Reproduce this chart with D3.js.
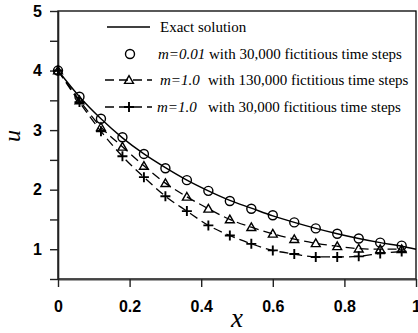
<!DOCTYPE html>
<html>
<head>
<meta charset="utf-8">
<script src="https://cdn.jsdelivr.net/npm/d3@7"></script>
<style>
  body { margin: 0; background: #fff; }
  svg { display: block; }
</style>
</head>
<body>
<div id="chart"></div>
<script>
// values
const xPts = [0, 0.06, 0.12, 0.18, 0.24, 0.30, 0.36, 0.42, 0.48, 0.54, 0.60, 0.66, 0.72, 0.78, 0.84, 0.90, 0.96];
const exactX = [0, 0.06, 0.12, 0.18, 0.24, 0.30, 0.36, 0.42, 0.48, 0.54, 0.60, 0.66, 0.72, 0.78, 0.84, 0.90, 0.96, 1.0];
const exactU = [4.00, 3.56, 3.19, 2.87, 2.60, 2.37, 2.16, 1.98, 1.82, 1.69, 1.56, 1.45, 1.35, 1.26, 1.18, 1.11, 1.05, 1.00];
const circleU = [4.00, 3.56, 3.19, 2.88, 2.60, 2.36, 2.16, 1.98, 1.81, 1.68, 1.57, 1.45, 1.35, 1.26, 1.18, 1.11, 1.06];
const triangleU = [4.00, 3.50, 3.05, 2.72, 2.40, 2.11, 1.88, 1.68, 1.50, 1.37, 1.26, 1.17, 1.10, 1.05, 1.01, 1.00, 1.00];
const plusU = [4.00, 3.47, 2.98, 2.56, 2.21, 1.89, 1.64, 1.40, 1.23, 1.09, 0.98, 0.92, 0.87, 0.87, 0.88, 0.93, 0.96];

const xTicks = [0, 0.2, 0.4, 0.6, 0.8, 1];
const yTicks = [0.5, 1, 1.5, 2, 2.5, 3, 3.5, 4, 4.5, 5];

const W = 418, H = 333;
const margin = { top: 11, right: 2, bottom: 54, left: 58 };
const width = W - margin.left - margin.right;
const height = H - margin.top - margin.bottom;

const serif = '"Liberation Serif", "Times New Roman", serif';
const sans = '"Liberation Sans", Arial, sans-serif';

const scaleX = d3.scaleLinear().domain([0, 1]).range([0, width]);
const scaleY = d3.scaleLinear().domain([0.5, 5]).range([height, 0]);

const svg = d3.select('#chart').append('svg')
    .attr('width', W)
    .attr('height', H);
const g = svg.append('g')
    .attr('transform', 'translate(' + margin.left + ',' + margin.top + ')');

// frame
g.append('rect')
    .attr('width', width)
    .attr('height', height)
    .attr('fill', 'none')
    .attr('stroke', '#000')
    .attr('stroke-width', 1.3);

// axes
const xAxis = g.append('g')
    .attr('transform', 'translate(0,' + height + ')')
    .call(d3.axisBottom(scaleX).tickValues(xTicks).tickSize(8).tickSizeOuter(0).tickPadding(14)
        .tickFormat(d => d === 0 || d === 1 ? String(d) : d3.format('.1f')(d)));
const yAxis = g.append('g')
    .call(d3.axisLeft(scaleY).tickValues(yTicks).tickSize(8).tickSizeOuter(0).tickPadding(8)
        .tickFormat(d => Number.isInteger(d) ? String(d) : ''));

[xAxis, yAxis].forEach(a => {
  a.select('.domain').attr('stroke', '#222').attr('stroke-width', 1.6);
  a.selectAll('.tick line').attr('stroke', '#222').attr('stroke-width', 1.4);
  a.selectAll('.tick text')
      .attr('fill', '#000')
      .style('font-family', sans)
      .style('font-weight', 'bold')
      .style('font-size', '16px');
});
xAxis.select('.domain').attr('stroke', '#444').attr('stroke-width', 2.2);

// axis titles
svg.append('text')
    .attr('x', margin.left + scaleX(0.5))
    .attr('y', 327)
    .attr('text-anchor', 'middle')
    .style('font-family', serif)
    .style('font-style', 'italic')
    .style('font-size', '27px')
    .text('x');
svg.append('text')
    .attr('transform', 'translate(20,136) rotate(-90)')
    .attr('text-anchor', 'middle')
    .style('font-family', serif)
    .style('font-style', 'italic')
    .style('font-size', '24px')
    .text('u');

const exactPts = exactX.map((x, i) => ({ x: x, u: exactU[i] }));
const circlePts = xPts.map((x, i) => ({ x: x, u: circleU[i] }));
const trianglePts = xPts.map((x, i) => ({ x: x, u: triangleU[i] }));
const plusPts = xPts.map((x, i) => ({ x: x, u: plusU[i] }));

const line = d3.line()
    .x(d => scaleX(d.x))
    .y(d => scaleY(d.u))
    .curve(d3.curveMonotoneX);

const dash = '9,5';

g.append('path')
    .attr('d', line(trianglePts))
    .attr('fill', 'none')
    .attr('stroke', '#000')
    .attr('stroke-width', 1.3)
    .attr('stroke-dasharray', dash);
g.append('path')
    .attr('d', line(plusPts))
    .attr('fill', 'none')
    .attr('stroke', '#000')
    .attr('stroke-width', 1.3)
    .attr('stroke-dasharray', dash);
g.append('path')
    .attr('d', line(exactPts))
    .attr('fill', 'none')
    .attr('stroke', '#000')
    .attr('stroke-width', 1.4);

// marker symbols
const triPath = d3.symbol().type(d3.symbolTriangle).size(34)();
const plusPath = 'M-5,0H5M0,-5V5';

function drawCircle(sel, x, y) {
  sel.append('circle')
      .attr('cx', x).attr('cy', y).attr('r', 4.5)
      .attr('fill', 'none').attr('stroke', '#000').attr('stroke-width', 1.4);
}
function drawTriangle(sel, x, y) {
  sel.append('path')
      .attr('d', triPath)
      .attr('transform', 'translate(' + x + ',' + (y + 0.8) + ')')
      .attr('fill', 'none').attr('stroke', '#000').attr('stroke-width', 1.4);
}
function drawPlus(sel, x, y) {
  sel.append('path')
      .attr('d', plusPath)
      .attr('transform', 'translate(' + x + ',' + y + ')')
      .attr('fill', 'none').attr('stroke', '#000').attr('stroke-width', 1.9);
}

circlePts.forEach(d => drawCircle(g, scaleX(d.x), scaleY(d.u)));
trianglePts.forEach(d => drawTriangle(g, scaleX(d.x), scaleY(d.u)));
plusPts.forEach(d => drawPlus(g, scaleX(d.x), scaleY(d.u)));

// legend
const legend = svg.append('g');
const legRows = [27, 54, 80, 107];
legend.append('line')
    .attr('x1', 107).attr('x2', 150).attr('y1', legRows[0]).attr('y2', legRows[0])
    .attr('stroke', '#000').attr('stroke-width', 1.4);
drawCircle(legend, 130, legRows[1]);
[legRows[2], legRows[3]].forEach(y => {
  legend.append('line')
      .attr('x1', 105).attr('x2', 152).attr('y1', y).attr('y2', y)
      .attr('stroke', '#000').attr('stroke-width', 1.3)
      .attr('stroke-dasharray', dash);
});
drawTriangle(legend, 129, legRows[2]);
drawPlus(legend, 129, legRows[3]);

function legText(x, y, parts) {
  const t = legend.append('text')
      .attr('x', x).attr('y', y + 5)
      .style('font-family', serif)
      .style('font-size', '15px');
  parts.forEach(p => {
    const s = t.append('tspan').text(p.text);
    if (p.italic) s.style('font-style', 'italic');
    if (p.x !== undefined) s.attr('x', p.x);
  });
}
legText(160, legRows[0], [{ text: 'Exact solution' }]);
legText(158, legRows[1], [{ text: 'm=0.01', italic: true }, { text: ' with 30,000 fictitious time steps' }]);
legText(160, legRows[2], [{ text: 'm=1.0', italic: true }, { text: 'with 130,000 fictitious time steps', x: 208 }]);
legText(157, legRows[3], [{ text: 'm=1.0', italic: true }, { text: 'with 30,000 fictitious time steps', x: 208 }]);
</script>
</body>
</html>
